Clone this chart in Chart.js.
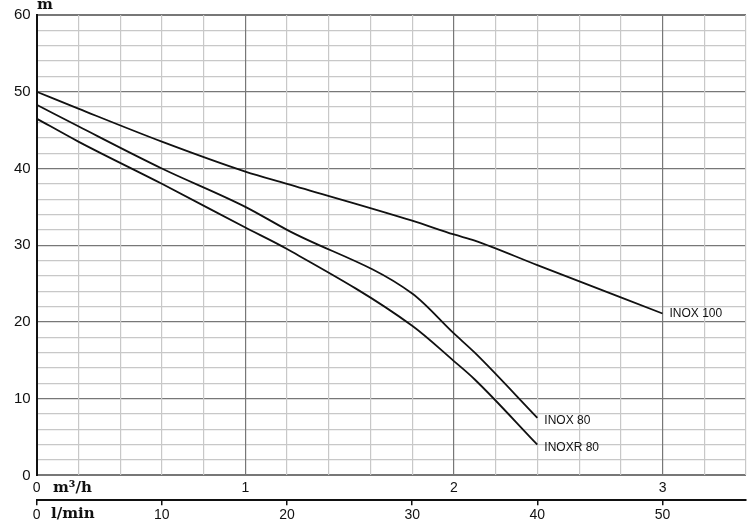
<!DOCTYPE html>
<html>
<head>
<meta charset="utf-8">
<script src="https://cdn.jsdelivr.net/npm/chart.js@4"></script>
<style>
  body { margin: 0; background: #fff; }
  #wrap { width: 750px; height: 526px; }
</style>
</head>
<body>
<div id="wrap"><canvas id="myChart"></canvas></div>
<script>
// flow in l/min, head in m
const flow = [0, 3.33, 10, 16.67, 20, 30, 33.33, 35, 40, 50]
const inox100 = [50, 47.8, 43.5, 39.6, 38, 33.2, 31.4, 30.6, 27.4, 21.1]
const inox80 = [48.3, 45.5, 40, 35, 32, 23.7, 18.5, 16, 7.5]
const inoxr80 = [46.5, 43.5, 38, 32.3, 29.5, 19.5, 14.9, 12.5, 4]
const seriesNames = ['INOX 100', 'INOX 80', 'INOXR 80']

const toPoints = (ys) => ys.map((y, i) => ({x: flow[i], y: y}))
const isInt = v => Math.abs(v - Math.round(v)) < 1e-6

const labelPlugin = {
    id: 'labels',
    afterDraw(chart) {
        const c = chart.ctx
        const xs = chart.scales.x
        const ys = chart.scales.y
        c.save()
        c.fillStyle = '#111'
        c.font = '12px "Liberation Sans", Arial, sans-serif'
        c.textBaseline = 'middle'
        chart.data.datasets.forEach((ds, i) => {
            const last = ds.data[ds.data.length - 1]
            c.fillText(seriesNames[i], xs.getPixelForValue(last.x) + 7, ys.getPixelForValue(last.y) + (i === 0 ? 0 : 3))
        })
        c.font = 'bold 15px "DejaVu Serif", "Liberation Serif", serif'
        c.textBaseline = 'alphabetic'
        c.fillText('m', 37, 9)
        c.fillText('m³/h', 53, 492)
        c.fillText('l/min', 51, 518)
        c.restore()
    }
}

Chart.register(labelPlugin)

new Chart(document.getElementById('myChart'), {
    type: 'line',
    data: {
        datasets: [inox100, inox80, inoxr80].map(d => ({
            data: toPoints(d),
            xAxisID: 'x',
            yAxisID: 'y',
            borderColor: '#111',
            borderWidth: 1.8,
            pointRadius: 0,
            cubicInterpolationMode: 'monotone',
            fill: false
        }))
    },
    options: {
        responsive: true,
        maintainAspectRatio: false,
        animation: false,
        layout: {padding: {top: 15, right: 4, left: 8, bottom: 0}},
        plugins: {legend: {display: false}, tooltip: {enabled: false}},
        scales: {
            y: {
                min: 0, max: 60,
                ticks: {
                    stepSize: 2,
                    color: '#111',
                    font: {size: 15, family: '"Liberation Sans", Arial, sans-serif'},
                    callback: v => v % 10 === 0 ? v : '',
                    autoSkip: false,
                    padding: 6
                },
                grid: {
                    color: ctx => ctx.tick.value % 10 === 0 ? '#777' : '#c8c8c8',
                    lineWidth: ctx => ctx.tick.value === 60 || ctx.tick.value === 0 ? 2 : 1.2,
                    drawTicks: false
                },
                border: {color: '#111', width: 2}
            },
            x2: {
                type: 'linear',
                position: 'bottom',
                weight: 1,
                min: 0, max: 3.4,
                ticks: {
                    stepSize: 0.2,
                    autoSkip: false,
                    color: '#111',
                    font: {size: 14, family: '"Liberation Sans", Arial, sans-serif'},
                    callback: v => isInt(v) ? Math.round(v) : '',
                    padding: 4
                },
                grid: {
                    color: ctx => isInt(ctx.tick.value) ? '#777' : '#c8c8c8',
                    lineWidth: 1.2,
                    drawTicks: false
                },
                border: {display: false}
            },
            x: {
                type: 'linear',
                position: 'bottom',
                weight: 2,
                min: 0, max: 56.67,
                afterBuildTicks: axis => { axis.ticks = axis.ticks.filter(t => t.value % 10 === 0) },
                ticks: {
                    stepSize: 10,
                    color: '#111',
                    font: {size: 14, family: '"Liberation Sans", Arial, sans-serif'},
                    padding: 2
                },
                grid: {drawOnChartArea: false, tickLength: 5, color: '#111', lineWidth: 1.5},
                border: {color: '#111', width: 2}
            }
        }
    }
})
</script>
</body>
</html>
